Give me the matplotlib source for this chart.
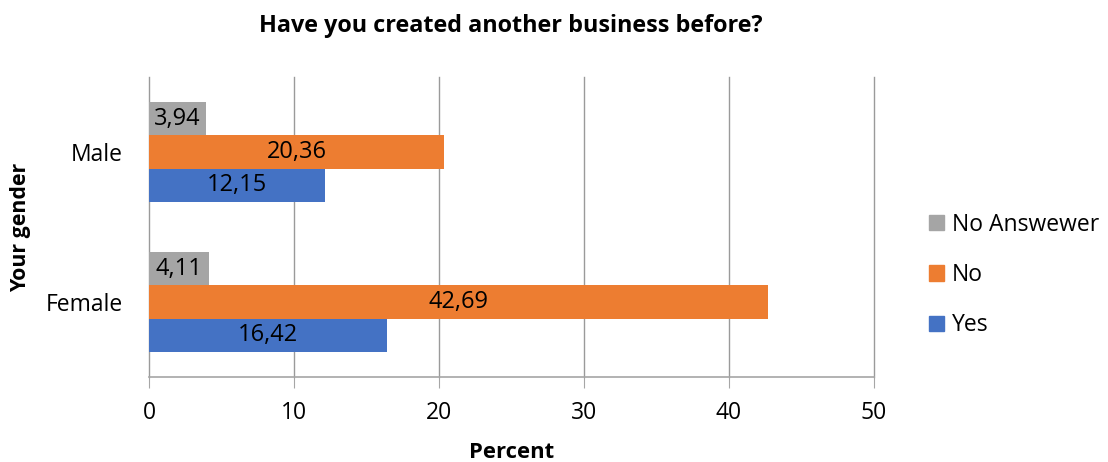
import numpy as np
import matplotlib.pyplot as plt
from matplotlib.patches import Patch

plt.rcParams['font.family'] = ['Open Sans', 'DejaVu Sans']

# survey answers, percent of respondents
genders = ['Female', 'Male']
yes = [16.42, 12.15]
no = [42.69, 20.36]
no_answer = [4.11, 3.94]

series = [
	('Yes', yes, '#4472C4'),
	('No', no, '#ED7D31'),
	('No Answewer', no_answer, '#A5A5A5'),
]

fig = plt.figure(figsize=(11.08, 4.62), dpi=100)
ax = fig.add_axes([149 / 1108, 1 - 377 / 462, 725 / 1108, 300 / 462])

y = np.arange(len(genders))
h = 0.223
for i, (name, vals, color) in enumerate(series):
	pos = y + (i - 1) * h
	bars = ax.barh(pos, vals, height=h, color=color, zorder=3)
	for b, v in zip(bars, vals):
		ax.text(b.get_width() / 2, b.get_y() + h / 2, f'{v:.2f}'.replace('.', ','),
				ha='center', va='center', fontsize=17, color='black', zorder=4)

ax.set_xlim(0, 50)
ax.set_ylim(-0.5, 1.5)
ax.set_xticks(range(0, 51, 10))
ax.set_yticks(y)
ax.set_yticklabels(genders)

# vertical gridlines, unclipped so the one at 50 shows fully
for xv in range(0, 51, 10):
	ax.axvline(xv, color='#9a9a9a', linewidth=1, zorder=0, clip_on=False)
for s in ('top', 'right', 'left'):
	ax.spines[s].set_visible(False)
ax.spines['bottom'].set_color('#a6a6a6')
ax.spines['bottom'].set_linewidth(1.2)
ax.tick_params(axis='x', length=8, color='#a6a6a6', labelsize=16.5, pad=9)
ax.tick_params(axis='y', length=0, labelsize=16.5, pad=19)

fig.text(511 / 1108, 1 - 26 / 462, 'Have you created another business before?',
		 ha='center', va='center', fontsize=16.8, fontweight='bold')
ax.set_xlabel('Percent', fontsize=15.8, fontweight='bold', va='center')
ax.xaxis.set_label_coords(0.5, (377 - 452) / 300)
ax.set_ylabel('Your gender', fontsize=15.4, fontweight='bold', va='center')
ax.yaxis.set_label_coords((21 - 149) / 725, 0.5)

handles = [Patch(color=c, label=n) for n, _, c in reversed(series)]
fig.legend(handles=handles, loc='center left', bbox_to_anchor=(920 / 1108, 1 - 275 / 462),
		   frameon=False, fontsize=16.5, handlelength=0.65, handleheight=0.65,
		   handletextpad=0.35, labelspacing=1.15, borderaxespad=0)

fig.savefig('out.png', dpi=100)
